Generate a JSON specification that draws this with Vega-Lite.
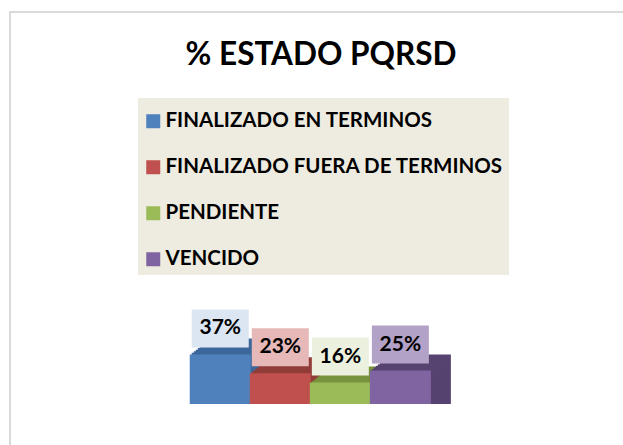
{
  "$schema": "https://vega.github.io/schema/vega-lite/v6.json",
  "width": 640,
  "height": 460,
  "padding": {"left": 10, "top": 12, "right": 0, "bottom": 0},
  "background": "white",
  "config": {"view": {"stroke": "#D9D9D9", "strokeWidth": 2}, "font": "Lato"},
  "title": {"text": "% ESTADO PQRSD", "font": "Lato", "fontSize": 31.5, "fontWeight": "bold", "color": "black", "anchor": "middle", "baseline": "alphabetic", "offset": -54, "dx": -9, "dy": 30},
  "data": {"values": [
    {"estado": "FINALIZADO EN TERMINOS", "pos": 1, "pct": 37, "label": "37%"},
    {"estado": "FINALIZADO FUERA DE TERMINOS", "pos": 2, "pct": 23, "label": "23%"},
    {"estado": "PENDIENTE", "pos": 3, "pct": 16, "label": "16%"},
    {"estado": "VENCIDO", "pos": 4, "pct": 25, "label": "25%"}
  ]},
  "encoding": {
    "x": {"field": "pos", "type": "quantitative", "axis": null, "scale": {"domain": [-2.418, 8.0738], "nice": false, "zero": false}},
    "y": {"field": "pct", "type": "quantitative", "axis": null, "scale": {"domain": [-50.7, 292.5], "nice": false, "zero": false}}
  },
  "layer": [
    {
      "encoding": {
        "y2": {"datum": 0},
        "fill": {"field": "estado", "type": "nominal", "sort": null, "legend": null, "scale": {"domain": ["FINALIZADO EN TERMINOS", "FINALIZADO FUERA DE TERMINOS", "PENDIENTE", "VENCIDO"], "range": ["#3D679A", "#923C3A", "#77933D", "#574370"]}}
      },
      "layer": [
        {"mark": {"type": "bar", "orient": "vertical", "width": 61, "xOffset": 20, "yOffset": -16}},
        {"mark": {"type": "bar", "orient": "vertical", "width": 61, "xOffset": 18, "yOffset": -14.4}},
        {"mark": {"type": "bar", "orient": "vertical", "width": 61, "xOffset": 16, "yOffset": -12.8}},
        {"mark": {"type": "bar", "orient": "vertical", "width": 61, "xOffset": 14, "yOffset": -11.2}},
        {"mark": {"type": "bar", "orient": "vertical", "width": 61, "xOffset": 12, "yOffset": -9.6}},
        {"mark": {"type": "bar", "orient": "vertical", "width": 61, "xOffset": 10, "yOffset": -8}},
        {"mark": {"type": "bar", "orient": "vertical", "width": 61, "xOffset": 8, "yOffset": -6.4}},
        {"mark": {"type": "bar", "orient": "vertical", "width": 61, "xOffset": 6, "yOffset": -4.8}},
        {"mark": {"type": "bar", "orient": "vertical", "width": 61, "xOffset": 4, "yOffset": -3.2}},
        {"mark": {"type": "bar", "orient": "vertical", "width": 61, "xOffset": 2, "yOffset": -1.6}}
      ]
    },
    {
      "mark": {"type": "bar", "orient": "vertical", "width": 61},
      "encoding": {
        "y2": {"datum": 0},
        "color": {"field": "estado", "type": "nominal", "sort": null,
          "scale": {"domain": ["FINALIZADO EN TERMINOS", "FINALIZADO FUERA DE TERMINOS", "PENDIENTE", "VENCIDO"], "range": ["#4F81BD", "#C0504D", "#9BBB59", "#8064A2"]},
          "legend": {"orient": "none", "legendX": 128, "legendY": 86, "title": " ", "titleFontSize": 1, "titlePadding": 7, "fillColor": "#EEECE1", "padding": 5, "symbolType": "square", "symbolSize": 196, "symbolStrokeWidth": 0, "symbolOpacity": 1, "symbolOffset": 0, "labelFont": "Lato", "labelFontSize": 20.5, "labelFontWeight": "bold", "labelColor": "black", "labelLimit": 400, "rowPadding": 25, "labelOffset": 2}}
      }
    },
    {
      "mark": {"type": "point", "shape": "M-1.5,-1H1.5V1H-1.5Z", "size": 1444, "filled": true, "opacity": 1, "strokeWidth": 0, "yOffset": -26},
      "encoding": {
        "fill": {"field": "estado", "type": "nominal", "sort": null, "legend": null, "scale": {"domain": ["FINALIZADO EN TERMINOS", "FINALIZADO FUERA DE TERMINOS", "PENDIENTE", "VENCIDO"], "range": ["#DCE6F2", "#E6B9B8", "#EBF1DE", "#B3A2C7"]}}
      }
    },
    {
      "mark": {"type": "text", "yOffset": -26, "font": "Lato", "fontSize": 21, "fontWeight": "bold", "color": "black", "align": "center", "baseline": "middle"},
      "encoding": {"text": {"field": "label"}}
    }
  ],
  "resolve": {"scale": {"fill": "independent"}}
}
